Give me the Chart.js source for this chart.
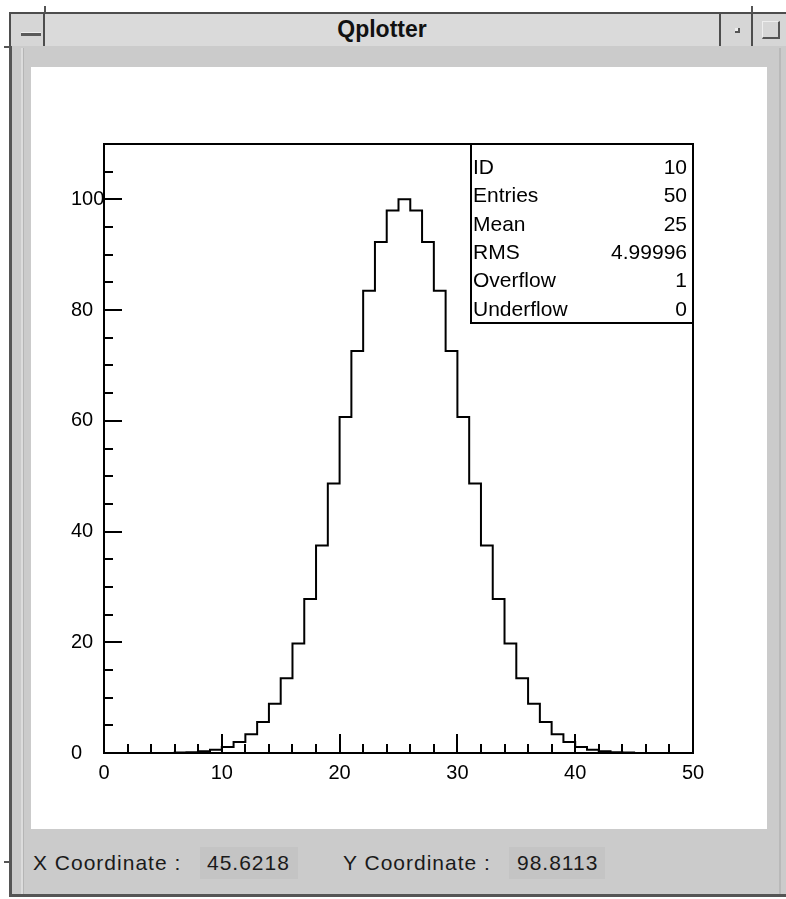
<!DOCTYPE html>
<html>
<head>
<meta charset="utf-8">
<title>Qplotter</title>
<script src="https://cdn.jsdelivr.net/npm/chart.js@4.4.1/dist/chart.umd.min.js"></script>
<style>
  html, body { margin: 0; padding: 0; background: #fff; }
  body { width: 786px; height: 899px; position: relative; overflow: hidden; font-family: "Liberation Sans", Arial, sans-serif; }
  .abs { position: absolute; box-sizing: border-box; }
  #titlebar { left: 9px; top: 12px; width: 790px; height: 36px; background: #dadada; border: 2px solid #4d4d4d; }
  #title { left: 44px; top: 12px; width: 676px; height: 36px; line-height: 35px; text-align: center; font-weight: bold; font-size: 23px; color: #111; }
  .btn { top: 12px; height: 36px; border: 2px solid #4d4d4d; background: #d6d6d6; }
  #menuBtn { left: 9px; width: 36px; }
  #menuBtn span { left: 10px; top: 18px; width: 20px; height: 4px; background: #5a5a5a; border-top: 1px solid #eee; }
  #minBtn { left: 719px; width: 34px; }
  #minBtn span { left: 14px; top: 14px; width: 5px; height: 5px; border-right: 2px solid #555; border-bottom: 2px solid #555; background: #eee; }
  #maxBtn { left: 751px; width: 40px; }
  #maxBtn span { left: 9px; top: 7px; width: 18px; height: 18px; border: 1px solid #eee; border-right: 2px solid #555; border-bottom: 2px solid #555; }
  #panel { left: 9px; top: 46px; width: 790px; height: 851px; background: #cbcbcb; border-left: 3px solid #555; border-bottom: 3px solid #555; }
  #panelLine { left: 21px; top: 48px; width: 3px; height: 846px; background: #dcdcdc; border-right: 1px solid #b5b5b5; }
  #rightLine { left: 779px; top: 48px; width: 2px; height: 846px; background: #b9b9b9; }
  #plot { left: 31px; top: 67px; width: 736px; height: 762px; background: #fff; }
  .status { top: 848px; height: 30px; line-height: 30px; font-size: 21px; letter-spacing: 1px; color: #1a1a1a; white-space: pre; }
  .valbox { background: #c4c4c4; }
  .stub { background: #555; }
</style>
</head>
<body>
<div class="abs" id="titlebar"></div>
<div class="abs" id="title">Qplotter</div>
<div class="abs btn" id="menuBtn"><span class="abs"></span></div>
<div class="abs btn" id="minBtn"><span class="abs"></span></div>
<div class="abs btn" id="maxBtn"><span class="abs"></span></div>
<div class="abs stub" style="left:44px;top:6px;width:2px;height:7px"></div>
<div class="abs stub" style="left:751px;top:6px;width:2px;height:7px"></div>
<div class="abs stub" style="left:4px;top:46px;width:6px;height:2px"></div>
<div class="abs" id="panel"></div>
<div class="abs" id="panelLine"></div>
<div class="abs" id="rightLine"></div>
<div class="abs" id="plot"><canvas id="histo" width="736" height="762"></canvas></div>
<div class="abs stub" style="left:4px;top:861px;width:6px;height:2px"></div>
<div class="abs valbox" style="left:200px;top:847px;width:98px;height:32px"></div>
<div class="abs valbox" style="left:509px;top:847px;width:96px;height:32px"></div>
<div class="abs status" style="left:33px">X Coordinate :</div>
<div class="abs status" style="left:207px">45.6218</div>
<div class="abs status" style="left:343px">Y Coordinate :</div>
<div class="abs status" style="left:517px">98.8113</div>

<script>
// histogram 10: 50 bins from 0 to 50
const histLow = 0;
const histHigh = 50;
const binCounts = [
  0, 0, 0, 0, 0, 0, 0.07, 0.15, 0.3, 0.6,
  1.1, 2.0, 3.4, 5.6, 8.9, 13.5, 19.8, 27.8, 37.5, 48.7,
  60.7, 72.6, 83.5, 92.3, 98.0, 100, 98.0, 92.3, 83.5, 72.6,
  60.7, 48.7, 37.5, 27.8, 19.8, 13.5, 8.9, 5.6, 3.4, 2.0,
  1.1, 0.6, 0.3, 0.15, 0.07, 0, 0, 0, 0, 0
];

// axis ranges and tick spacing
const yLow = 0;
const yHigh = 110;
const xMajorStep = 10;
const xMinorStep = 2;
const yMajorStep = 20;
const yMinorStep = 5;

// statistics box
const statNames = ['ID', 'Entries', 'Mean', 'RMS', 'Overflow', 'Underflow'];
const statValues = ['10', '50', '25', '4.99996', '1', '0'];

const binWidth = (histHigh - histLow) / binCounts.length;
const outline = binCounts.map((c, i) => ({ x: histLow + i * binWidth, y: c }));
outline.push({ x: histHigh, y: 0 });

const FONT = '"Liberation Sans", Arial, sans-serif';

// frame, inward ticks and the stats box
const hbookFrame = {
  id: 'hbookFrame',
  afterDatasetsDraw(chart) {
    const { ctx, chartArea: a, scales: { x, y } } = chart;
    ctx.save();
    ctx.strokeStyle = '#000';
    ctx.lineWidth = 2;
    ctx.strokeRect(a.left, a.top, a.right - a.left, a.bottom - a.top);

    ctx.beginPath();
    for (let v = histLow; v <= histHigh; v += xMinorStep) {
      const px = Math.round(x.getPixelForValue(v));
      const len = v % xMajorStep === 0 ? 19 : 9;
      ctx.moveTo(px, a.bottom);
      ctx.lineTo(px, a.bottom - len);
    }
    for (let v = yLow; v <= yHigh; v += yMinorStep) {
      const py = Math.round(y.getPixelForValue(v));
      const len = v % yMajorStep === 0 ? 18 : 9;
      ctx.moveTo(a.left, py);
      ctx.lineTo(a.left + len, py);
    }
    ctx.stroke();

    // stats box in the top right corner
    const boxW = 222, boxH = 179;
    const bx = a.right - boxW, by = a.top;
    ctx.fillStyle = '#fff';
    ctx.fillRect(bx, by, boxW, boxH);
    ctx.strokeRect(bx, by, boxW, boxH);
    ctx.fillStyle = '#000';
    ctx.font = '21px ' + FONT;
    ctx.textBaseline = 'middle';
    statNames.forEach((name, i) => {
      const ty = by + 24 + i * 28.4;
      ctx.textAlign = 'left';
      ctx.fillText(name, bx + 2, ty);
      ctx.textAlign = 'right';
      ctx.fillText(statValues[i], a.right - 6, ty);
    });
    ctx.restore();
  }
};

new Chart(document.getElementById('histo'), {
  type: 'line',
  data: {
    datasets: [{
      data: outline,
      stepped: 'before',
      borderColor: '#000',
      borderWidth: 2,
      pointRadius: 0,
      fill: false
    }]
  },
  options: {
    responsive: false,
    animation: false,
    layout: { padding: { left: 40, right: 74, top: 77, bottom: 36 } },
    plugins: { legend: { display: false }, tooltip: { enabled: false } },
    scales: {
      x: {
        type: 'linear',
        min: histLow,
        max: histHigh,
        grid: { display: false, drawTicks: false },
        border: { display: false },
        ticks: { stepSize: xMajorStep, padding: 8, color: '#000', font: { family: FONT, size: 20 }, maxRotation: 0 },
        afterFit(scale) { scale.height = 40; }
      },
      y: {
        min: yLow,
        max: yHigh,
        grid: { display: false, drawTicks: false },
        border: { display: false },
        ticks: { stepSize: yMajorStep, includeBounds: false, padding: 0, crossAlign: 'far', color: '#000', font: { family: FONT, size: 20 } },
        afterFit(scale) { scale.width = 33; }
      }
    }
  },
  plugins: [hbookFrame]
});
</script>
</body>
</html>
